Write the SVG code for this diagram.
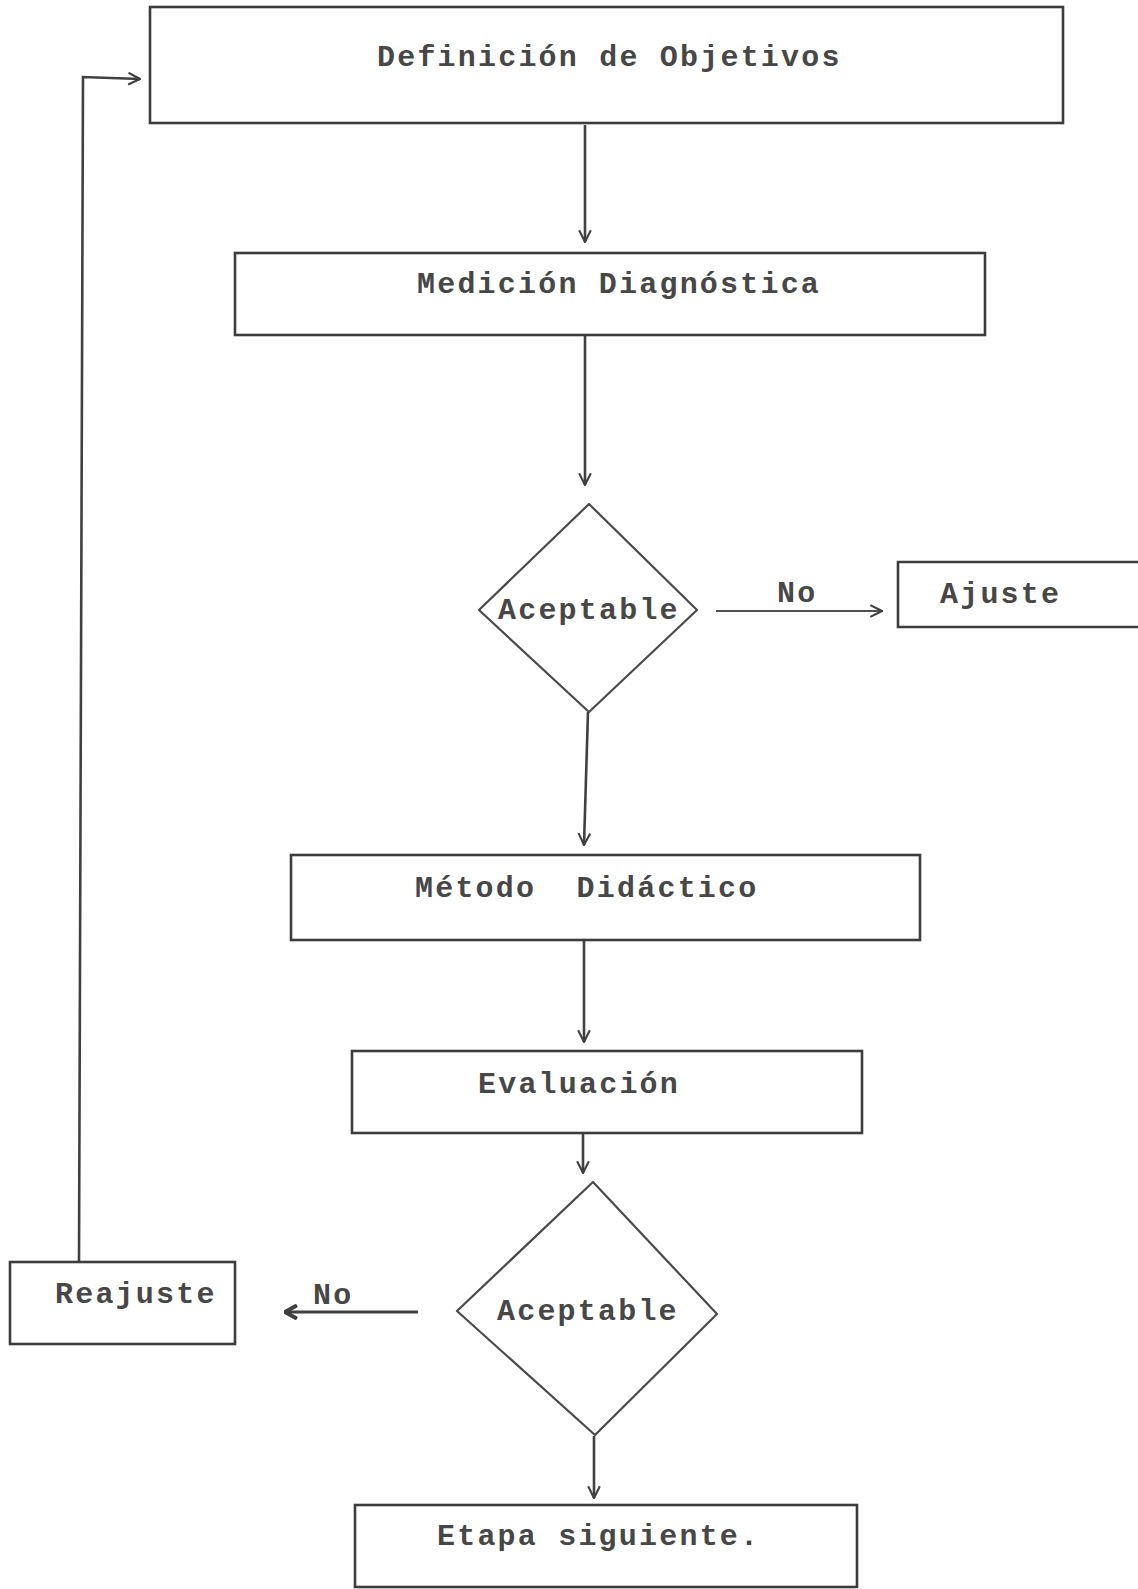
<svg xmlns="http://www.w3.org/2000/svg" width="1138" height="1589" viewBox="0 0 1138 1589">
<style>
.box{fill:none;stroke:#3c3c3c;stroke-width:2.6}
.dia{fill:none;stroke:#4a4a4a;stroke-width:2.2;stroke-linejoin:round}
.conn{fill:none;stroke:#404040;stroke-width:2.6}
.thin{fill:none;stroke:#505050;stroke-width:2}
.t{font-family:"Liberation Mono","DejaVu Sans Mono",monospace;font-weight:bold;font-size:30px;letter-spacing:2.2px;fill:#474747;white-space:pre}
</style>
<defs>
<marker id="open" viewBox="0 0 12 12" refX="11" refY="6" markerWidth="14" markerHeight="14" markerUnits="userSpaceOnUse" orient="auto">
<path d="M1,1 L11,6 L1,11" fill="none" stroke="#404040" stroke-width="1.8"/>
</marker>
<marker id="bold" viewBox="0 0 12 12" refX="11" refY="6" markerWidth="16" markerHeight="16" markerUnits="userSpaceOnUse" orient="auto">
<path d="M2,1 L11,6 L2,11" fill="none" stroke="#404040" stroke-width="3"/>
</marker>
</defs>
<rect width="1138" height="1589" fill="#ffffff"/>
<g id="connectors">
<line class="conn" x1="585" y1="125" x2="585" y2="242" marker-end="url(#open)"/>
<line class="conn" x1="585" y1="336" x2="585" y2="485" marker-end="url(#open)"/>
<line class="conn" x1="588" y1="712" x2="584" y2="845" marker-end="url(#open)"/>
<line class="conn" x1="584" y1="941" x2="584" y2="1042" marker-end="url(#open)"/>
<line class="conn" x1="583" y1="1134" x2="583" y2="1173" marker-end="url(#open)"/>
<line class="conn" x1="594" y1="1436" x2="594" y2="1498" marker-end="url(#open)"/>
<line class="thin" x1="716" y1="611" x2="882" y2="611" marker-end="url(#open)"/>
<line class="conn" x1="418" y1="1312" x2="285" y2="1312" marker-end="url(#bold)" style="stroke-width:3"/>
<polyline class="conn" points="79,1262 83,77 140,79" marker-end="url(#open)"/>
<text class="t" x="777" y="602">No</text>
<text class="t" x="313" y="1304">No</text>
</g>
<g id="definicion">
<rect class="box" x="150" y="7" width="913" height="116"/>
<text class="t" x="377" y="66">Definición de Objetivos</text>
</g>
<g id="medicion">
<rect class="box" x="235" y="253" width="750" height="82"/>
<text class="t" x="417" y="293">Medición Diagnóstica</text>
</g>
<g id="aceptable1">
<polygon class="dia" points="589,504 697,610 589,712 479,610"/>
<text class="t" x="498" y="619">Aceptable</text>
</g>
<g id="ajuste">
<path class="box" d="M1140,562 H898 V627 H1140"/>
<text class="t" x="940" y="603">Ajuste</text>
</g>
<g id="metodo">
<rect class="box" x="291" y="855" width="629" height="85"/>
<text class="t" x="415" y="897" xml:space="preserve">Método  Didáctico</text>
</g>
<g id="evaluacion">
<rect class="box" x="352" y="1051" width="510" height="82"/>
<text class="t" x="478" y="1093">Evaluación</text>
</g>
<g id="aceptable2">
<polygon class="dia" points="593,1182 717,1314 595,1435 457,1311"/>
<text class="t" x="497" y="1320">Aceptable</text>
</g>
<g id="reajuste">
<rect class="box" x="10" y="1262" width="225" height="82"/>
<text class="t" x="55" y="1303">Reajuste</text>
</g>
<g id="etapa">
<rect class="box" x="355" y="1505" width="502" height="82"/>
<text class="t" x="437" y="1545">Etapa siguiente.</text>
</g>
</svg>
